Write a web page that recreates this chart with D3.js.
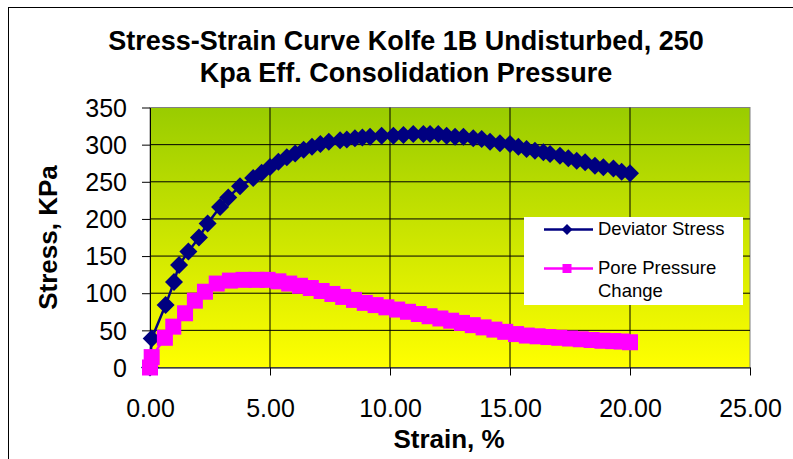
<!DOCTYPE html>
<html>
<head>
<meta charset="utf-8">
<script src="https://cdn.jsdelivr.net/npm/d3@7/dist/d3.min.js"></script>
<style>
  body { margin: 0; background: #fff; }
  svg { display: block; }
  text { font-family: "Liberation Sans", Arial, Helvetica, sans-serif; fill: #000; }
</style>
</head>
<body>
<svg id="chart" width="793" height="459"></svg>
<script>
// Triaxial test, Kolfe 1B undisturbed sample
const titleLines = ["Stress-Strain Curve Kolfe 1B Undisturbed, 250", "Kpa Eff. Consolidation Pressure"];
const xAxisTitle = "Strain, %";
const yAxisTitle = "Stress, KPa";

// Deviator stress (kPa) against axial strain (%)
const strainDev = [0, 0.07, 0.65, 1.0, 1.21, 1.6, 2.04, 2.4, 2.92, 3.26, 3.75, 4.3, 4.65, 5.0, 5.35, 5.7, 6.05, 6.4,
  6.75, 7.1, 7.45, 7.92, 8.2, 8.54, 8.85, 9.17, 9.65, 10.14, 10.56, 10.97, 11.39, 11.67, 12.01, 12.36, 12.71, 13.06,
  13.47, 13.82, 14.17, 14.58, 15.0, 15.35, 15.69, 16.04, 16.39, 16.67, 17.08, 17.43, 17.78, 18.13, 18.54, 18.89,
  19.31, 19.65, 20.0];
const devStress = [0, 39, 84, 115, 138, 156, 175, 194, 216, 229, 244, 255, 262, 270, 277, 283, 288, 293,
  297, 301, 304, 306, 307, 308.5, 309.5, 310.7, 312, 312, 313, 314.3, 314.3, 314.3, 314.3, 312, 310.7, 310.7,
  308.5, 307.6, 304, 301.8, 300.8, 297.2, 294, 291.8, 289.7, 287.4, 285.1, 281.6, 278.4, 276.2, 271.6, 269.5,
  268, 263.6, 261.4];

// Pore pressure change (kPa) against axial strain (%)
const strainPore = [0, 0.07, 0.62, 0.97, 1.46, 1.87, 2.29, 2.78, 3.33, 3.9, 4.44, 4.9, 5.35, 5.8, 6.25, 6.7, 7.15, 7.6,
  8.05, 8.5, 8.95, 9.4, 9.85, 10.3, 10.75, 11.2, 11.65, 12.1, 12.55, 13.0, 13.45, 13.9, 14.35, 14.8, 15.25, 15.7,
  16.15, 16.6, 17.05, 17.5, 17.95, 18.4, 18.85, 19.3, 19.65, 20.0];
const porePressure = [0, 14, 40, 55, 73, 90, 102, 113, 117, 118, 118, 118, 116, 113, 110, 107, 103, 99,
  95, 91, 87, 84, 81, 78, 75, 72, 69, 66, 63, 60, 57, 54, 51, 48, 45, 43,
  42, 41, 40, 39, 38, 37, 36, 35.5, 35, 34];

const xTicks = [0, 5, 10, 15, 20, 25];
const xTickLabels = ["0.00", "5.00", "10.00", "15.00", "20.00", "25.00"];
const yTicks = [0, 50, 100, 150, 200, 250, 300, 350];
const yTickLabels = ["0", "50", "100", "150", "200", "250", "300", "350"];

const seriesNames = ["Deviator Stress", "Pore Pressure Change"];
const seriesColors = ["#000080", "#FF00FF"];

const svg = d3.select("#chart");

const plot = { left: 150, right: 750, top: 107.5, bottom: 367.5 };
const x = d3.scaleLinear().domain([0, 25]).range([plot.left, plot.right]);
const y = d3.scaleLinear().domain([0, 350]).range([plot.bottom, plot.top]);

// chart area frame
svg.append("rect").attr("x", 8.5).attr("y", 7.5).attr("width", 900).attr("height", 600)
  .attr("fill", "#fff").attr("stroke", "#000").attr("stroke-width", 1);

// plot area: green-to-yellow vertical gradient
const defs = svg.append("defs");
const grad = defs.append("linearGradient").attr("id", "plotFill")
  .attr("x1", 0).attr("y1", 0).attr("x2", 0).attr("y2", 1);
grad.append("stop").attr("offset", "0%").attr("stop-color", "#99CC00");
grad.append("stop").attr("offset", "100%").attr("stop-color", "#FFFF00");

svg.append("rect")
  .attr("x", x(0)).attr("y", y(350))
  .attr("width", x(25) - x(0)).attr("height", y(0) - y(350))
  .attr("fill", "url(#plotFill)").attr("stroke", "#808080").attr("stroke-width", 1);

// gridlines
svg.append("g").selectAll("line").data(yTicks.filter(d => d > 0 && d < 350)).join("line")
  .attr("x1", x(0)).attr("x2", x(25)).attr("y1", d => y(d)).attr("y2", d => y(d))
  .attr("stroke", "#000").attr("stroke-width", 1);
svg.append("g").selectAll("line").data(xTicks.filter(d => d > 0 && d < 25)).join("line")
  .attr("x1", d => x(d)).attr("x2", d => x(d)).attr("y1", y(350)).attr("y2", y(0))
  .attr("stroke", "#000").attr("stroke-width", 1);

// axes
const tickFont = 25;
const gx = svg.append("g").attr("transform", `translate(0,${y(0)})`)
  .call(d3.axisBottom(x).tickValues(xTicks).tickSize(8).tickSizeOuter(0)
    .tickFormat((d, i) => xTickLabels[i]));
gx.select(".domain").attr("stroke", "#000");
gx.selectAll(".tick line").attr("stroke", "#000");
gx.selectAll(".tick text").attr("y", 49).attr("dy", 0)
  .style("font-size", tickFont + "px").attr("font-family", null);

const gy = svg.append("g").attr("transform", `translate(${x(0)},0)`)
  .call(d3.axisLeft(y).tickValues(yTicks).tickSize(8).tickSizeOuter(0)
    .tickFormat((d, i) => yTickLabels[i]));
gy.select(".domain").attr("stroke", "#000");
gy.selectAll(".tick line").attr("stroke", "#000");
gy.selectAll(".tick text").attr("x", -23).attr("dy", "0.35em")
  .style("font-size", tickFont + "px").attr("font-family", null);

// series
const devData = strainDev.map((s, i) => [s, devStress[i]]);
const poreData = strainPore.map((s, i) => [s, porePressure[i]]);
const line = d3.line().x(d => x(d[0])).y(d => y(d[1]));

svg.append("path").datum(devData).attr("d", line)
  .attr("fill", "none").attr("stroke", seriesColors[0]).attr("stroke-width", 2.5);
const diamond = r => `M0,${-r}L${r},0L0,${r}L${-r},0Z`;
svg.append("g").selectAll("path").data(devData).join("path")
  .attr("transform", d => `translate(${x(d[0])},${y(d[1])})`)
  .attr("d", diamond(9)).attr("fill", seriesColors[0]);

svg.append("path").datum(poreData).attr("d", line)
  .attr("fill", "none").attr("stroke", seriesColors[1]).attr("stroke-width", 2.5);
const sq = 16;
svg.append("g").selectAll("rect").data(poreData).join("rect")
  .attr("x", d => x(d[0]) - sq / 2).attr("y", d => y(d[1]) - sq / 2)
  .attr("width", sq).attr("height", sq).attr("fill", seriesColors[1]);

// titles
svg.append("g").selectAll("text").data(titleLines).join("text")
  .attr("x", 406).attr("y", (d, i) => 50 + i * 32)
  .attr("text-anchor", "middle").style("font-size", "27px").style("font-weight", "bold")
  .text(d => d);

svg.append("text").attr("x", 449).attr("y", 448).attr("text-anchor", "middle")
  .style("font-size", "26px").style("font-weight", "bold").text(xAxisTitle);

svg.append("text").attr("transform", `translate(57,${(plot.top + plot.bottom) / 2}) rotate(-90)`)
  .attr("text-anchor", "middle").style("font-size", "26px").style("font-weight", "bold").text(yAxisTitle);

// legend
const lg = svg.append("g");
lg.append("rect").attr("x", 524).attr("y", 217).attr("width", 219).attr("height", 88).attr("fill", "#fff");
lg.append("line").attr("x1", 544).attr("x2", 593).attr("y1", 229.5).attr("y2", 229.5)
  .attr("stroke", seriesColors[0]).attr("stroke-width", 2.5);
lg.append("path").attr("transform", "translate(567,229.5)").attr("d", diamond(5.5)).attr("fill", seriesColors[0]);
lg.append("text").attr("x", 598).attr("y", 235).style("font-size", "18.5px").text(seriesNames[0]);

lg.append("line").attr("x1", 544).attr("x2", 593).attr("y1", 268.5).attr("y2", 268.5)
  .attr("stroke", seriesColors[1]).attr("stroke-width", 2.5);
lg.append("rect").attr("x", 562.5).attr("y", 264).attr("width", 9).attr("height", 9).attr("fill", seriesColors[1]);
const poreLabel = lg.append("text").attr("x", 598).attr("y", 274).style("font-size", "18.5px");
poreLabel.append("tspan").attr("x", 598).text("Pore Pressure");
poreLabel.append("tspan").attr("x", 598).attr("dy", 23).text("Change");
</script>
</body>
</html>
